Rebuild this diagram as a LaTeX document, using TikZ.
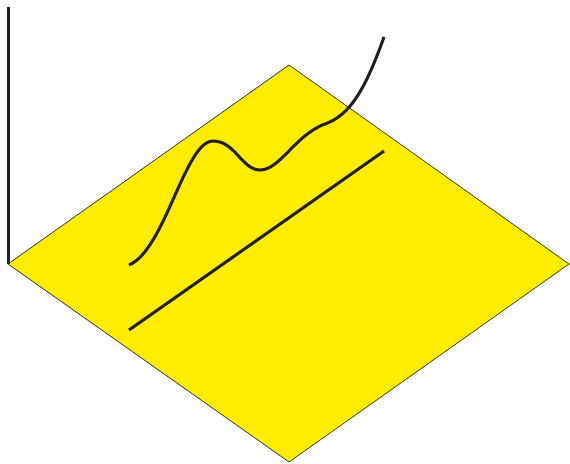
\documentclass[tikz,border=0pt]{standalone}
\usepackage{xcolor}
\usepackage{tikz}
\definecolor{planeyellow}{RGB}{255,237,0}
\definecolor{inkdark}{RGB}{35,31,32}

\begin{document}
\begin{tikzpicture}[
  x=1pt, y=-1pt,
  plane/.style={fill=planeyellow, draw=inkdark, line width=0.6pt},
  thick line/.style={draw=inkdark, line width=3pt},
  thick curve/.style={draw=inkdark, line width=3pt}
]
\useasboundingbox (0,0) rectangle (570,463);
\coordinate (left) at (8,264);
\coordinate (top) at (289,65);
\coordinate (right) at (569,264);
\coordinate (bottom) at (289,462);
\coordinate (axistop) at (8,7);
\coordinate (linestart) at (129,330);
\coordinate (lineend) at (384,151);
\coordinate (curvestart) at (129,265);
\coordinate (peak) at (213,141);
\coordinate (trough) at (260,170);
\coordinate (bend) at (325,124);
\coordinate (curveend) at (384,37);
\filldraw[plane] (left) -- (top) -- (right) -- (bottom) -- cycle;
\draw[thick line] (left) -- (axistop);
\draw[thick line] (linestart) -- (lineend);
% wavy curve above the plane
\draw[thick curve] (curvestart) .. controls (165,250) and (185,141) .. (peak)
  .. controls (235,141) and (242,170) .. (trough)
  .. controls (280,170) and (295,135) .. (bend)
  .. controls (350,115) and (365,90) .. (curveend);
\end{tikzpicture}
\end{document}
